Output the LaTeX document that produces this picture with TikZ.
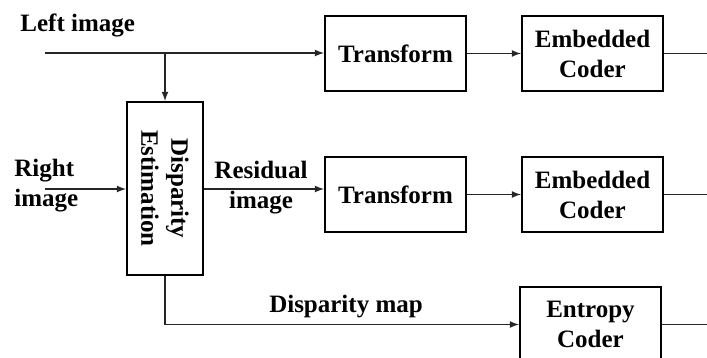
\documentclass[tikz,border=0pt]{standalone}
\usepackage{fontspec}
\setmainfont{Liberation Serif}
\usetikzlibrary{arrows,positioning}

\begin{document}
\begin{tikzpicture}[x=0.5pt,y=-0.5pt,
    block/.style={
        draw=black,
        line width=1pt,
        minimum width=70.5pt,
        minimum height=37.5pt,
        inner sep=0pt,
        align=center,
        font=\bfseries\fontsize{12.5}{15}\selectfont
        },
    txt/.style={
        inner sep=0pt,
        font=\bfseries\fontsize{12.5}{15}\selectfont
        },
    link/.style={draw=black!85,line width=0.6pt},
    node distance=27pt
  ]
  \useasboundingbox (0,0) rectangle (707,358);

  % blocks
  \node[block] (trans1) at (395.5,53.5) {Transform};
  \node[block,right=of trans1] (emb1) {Embedded\\Coder};
  \node[block] (trans2) at (395.5,194.5) {Transform};
  \node[block,right=of trans2] (emb2) {Embedded\\Coder};
  \node[block] (entropy) at (590.5,324.5) {Entropy\\Coder};
  \node[block,minimum width=38pt,minimum height=86.5pt] (disp) at (165,188.5) {};
  \node[txt,rotate=-90,align=center] (disptext) at (disp) {Disparity\\Estimation};

  % inputs and labels
  \coordinate (lin) at (45,53);
  \coordinate (rin) at (45,189);
  \node[txt,anchor=west] (lefttxt) at (20,25) {Left image};
  \node[txt,align=left,anchor=west] (righttxt) at (14,186) {Right\\image};
  \node[txt,align=center] (restxt) at (261,188) {Residual\\image};
  \node[txt] (maptxt) at (346,307) {Disparity map};

  % connections
  \draw[link,-latex] (lin) -- (lin -| trans1.west);
  \draw[link,-latex] (lin -| disp.north) -- (disp.north);
  \draw[link,-latex] (rin) -- (rin -| disp.west);
  \draw[link,-latex] (disp.east |- rin) -- (rin -| trans2.west);
  \draw[link,-latex] (disp.south) |- (entropy.west);
  \draw[link,-latex] (trans1) -- (emb1);
  \draw[link,-latex] (trans2) -- (emb2);

  % outputs
  \draw[link] (emb1.east) -- ++(50,0);
  \draw[link] (emb2.east) -- ++(50,0);
  \draw[link] (entropy.east) -- ++(50,0);
\end{tikzpicture}
\end{document}
